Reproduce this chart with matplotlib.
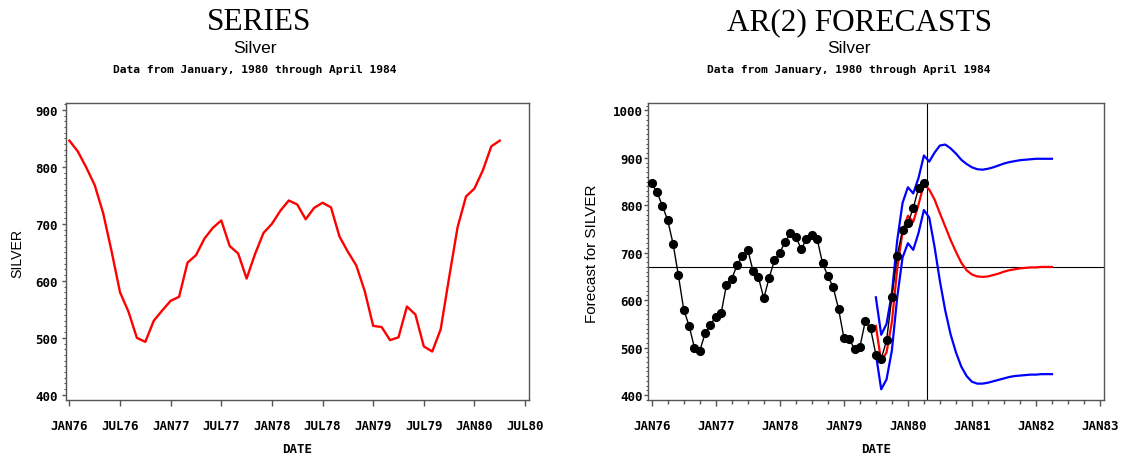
import numpy as np
import matplotlib
matplotlib.use("Agg")
import matplotlib.pyplot as plt
from matplotlib.ticker import MultipleLocator, FixedLocator, NullLocator

# Monthly silver series, JAN76 .. APR80
silver = [846, 827, 799, 768, 719, 652, 580, 546, 500, 493, 530, 548,
          565, 572, 632, 645, 674, 693, 706, 661, 648, 604, 647, 684,
          700, 723, 741, 734, 708, 728, 737, 729, 678, 651, 627, 582,
          521, 519, 496, 501, 555, 541, 485, 476, 515, 606, 694, 748,
          762, 794, 836, 846]

# AR(2) forecasts: one-step-ahead JUL79..APR80, then leads 1..24 (MAY80..APR82)
forecast_start = 42          # month index of JUL79 (JAN76 = 0)
forecast = [546, 470, 490, 554, 666, 744, 778, 765, 802, 845,
            833, 812, 783, 755, 727, 702, 679, 663, 654, 650, 649, 650,
            653, 656, 660, 663, 665, 667, 668, 669, 669, 670, 670, 670]
upper95 = [606, 527, 550, 615, 726, 805, 838, 825, 858, 905,
           892, 911, 926, 928, 920, 909, 896, 887, 880, 876, 875, 877,
           880, 884, 888, 891, 893, 895, 896, 897, 898, 898, 898, 898]
lower95 = [486, 412, 433, 494, 606, 690, 720, 706, 742, 790,
           774, 712, 640, 578, 528, 490, 460, 440, 428, 424, 424, 426,
           429, 432, 435, 438, 440, 441, 442, 443, 443, 444, 444, 444]
series_mean = 669
last_obs = 51.5              # end of observed data (APR80)

left_ticks = ["JAN76", "JUL76", "JAN77", "JUL77", "JAN78", "JUL78",
              "JAN79", "JUL79", "JAN80", "JUL80"]
right_ticks = ["JAN76", "JAN77", "JAN78", "JAN79", "JAN80", "JAN81",
               "JAN82", "JAN83"]

W, H = 1122, 460
fig = plt.figure(figsize=(W / 100, H / 100), dpi=100)

MONO = "DejaVu Sans Mono"
SANS = "Liberation Sans"
SERIF = "Liberation Serif"
FRAME = "#555555"


def px(x, y):
    return x / W, 1 - y / H


def style_axes(ax, xstep, tick_labels, ylim, ymajor, xminor=None, ypad=3.0):
    for s in ax.spines.values():
        s.set_color(FRAME)
        s.set_linewidth(1.0)
    ax.set_ylim(*ylim)
    ax.yaxis.set_major_locator(MultipleLocator(ymajor))
    ax.yaxis.set_minor_locator(MultipleLocator(10))
    ax.set_xticks([i * xstep for i in range(len(tick_labels))])
    ax.set_xticklabels(tick_labels)
    if xminor:
        ax.xaxis.set_minor_locator(MultipleLocator(xminor))
    else:
        ax.xaxis.set_minor_locator(NullLocator())
    ax.tick_params(axis="x", which="major", length=4.5, width=1.0,
                   color=FRAME, pad=9.5, direction="out")
    ax.tick_params(axis="x", which="minor", length=3.0, width=1.0,
                   color=FRAME, direction="out")
    ax.tick_params(axis="y", which="major", length=3.0, width=1.0,
                   color=FRAME, pad=ypad, direction="out")
    ax.tick_params(axis="y", which="minor", length=1.5, width=0.8,
                   color=FRAME, direction="out")
    for lab in ax.get_xticklabels() + ax.get_yticklabels():
        lab.set_fontfamily(MONO)
        lab.set_fontweight("bold")
        lab.set_fontsize(9)


months = np.arange(len(silver))
fmonths = forecast_start + np.arange(len(forecast))

# ---- left panel: the series itself
ax1 = fig.add_axes([66 / W, 59 / H, (529.3 - 66) / W, (401 - 104) / H])
ax1.plot(months, silver, color="#ff0000", lw=1.7)
ax1.set_xlim(-0.4, 54.5)
style_axes(ax1, 6, left_ticks, (391, 912), 100, ypad=3.0)

# ---- right panel: data with AR(2) forecasts and 95% limits
ax2 = fig.add_axes([648.3 / W, 59 / H, (1104.3 - 648.3) / W, (401 - 104) / H])
ax2.axhline(series_mean, color="black", lw=0.8, zorder=1)
ax2.axvline(last_obs, color="black", lw=0.8, zorder=1)
ax2.plot(fmonths, upper95, color="#0000ff", lw=1.6, zorder=2)
ax2.plot(fmonths, lower95, color="#0000ff", lw=1.6, zorder=2)
ax2.plot(fmonths, forecast, color="#ff0000", lw=1.6, zorder=3)
ax2.plot(months, silver, color="black", lw=1.0, marker="o", ms=5.6,
         zorder=4)
ax2.set_xlim(-0.64, 84.8)
style_axes(ax2, 12, right_ticks, (389.5, 1015.6), 100, xminor=3, ypad=1.0)

# ---- titles
for cx, title in ((259, "SERIES"), (860, "AR(2) FORECASTS")):
    fig.text(*px(cx, 30), title, family=SERIF, fontsize=22.5,
             ha="center", va="baseline")
for cx in (255, 849):
    fig.text(*px(cx, 53.3), "Silver", family=SANS, fontsize=12.5,
             ha="center", va="baseline")
    fig.text(*px(cx, 73), "Data from January, 1980 through April 1984",
             family=MONO, fontweight="bold", fontsize=8.1,
             ha="center", va="baseline")

# ---- axis labels
for cx in (297.5, 876):
    fig.text(*px(cx, 453), "DATE", family=MONO, fontweight="bold",
             fontsize=9, ha="center", va="baseline")
fig.text(*px(17.5, 253), "SILVER", family=SANS, fontsize=10.2,
         rotation=90, ha="center", va="center")
fig.text(*px(592.5, 253.5), "Forecast for SILVER", family=SANS,
         fontsize=11, rotation=90, ha="center", va="center")

fig.savefig("out.png", dpi=100)
